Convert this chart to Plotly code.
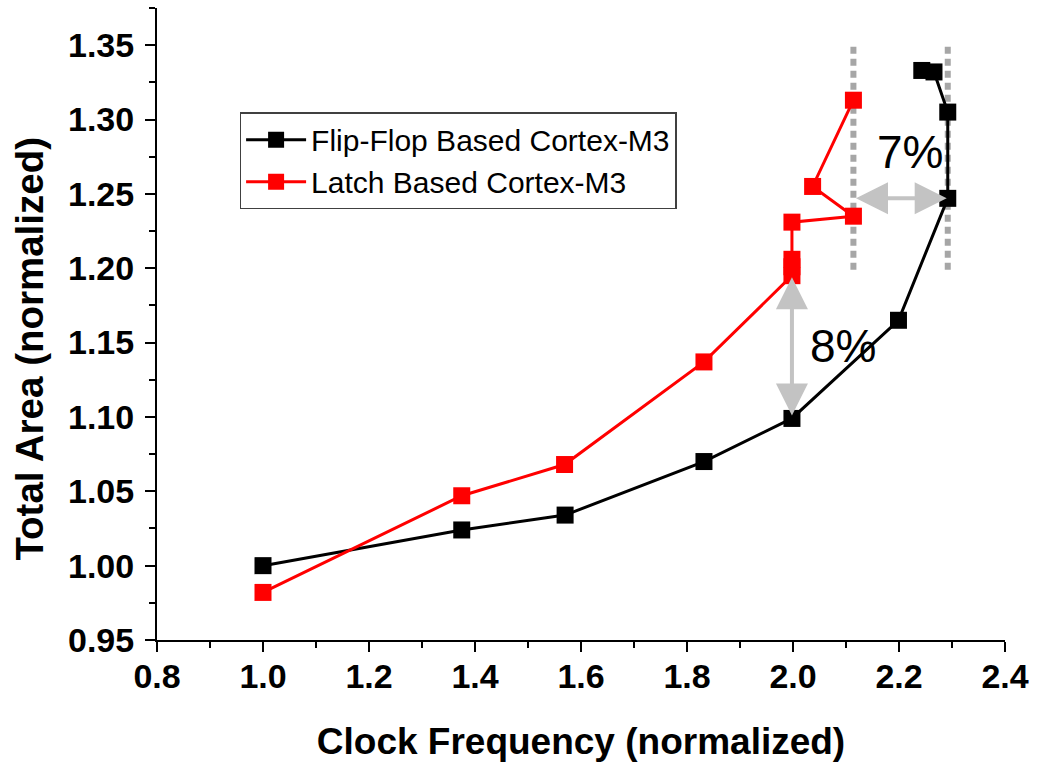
import plotly.graph_objects as go

# Data
ff_freq = [1.0, 1.375, 1.57, 1.832, 1.998, 2.199, 2.292, 2.292, 2.266, 2.243]
ff_area = [1.000, 1.024, 1.034, 1.070, 1.099, 1.165, 1.247, 1.305, 1.332, 1.333]

latch_freq = [1.0, 1.375, 1.569, 1.832, 1.998, 1.998, 1.998, 1.998, 2.114, 2.037, 2.114]
latch_area = [0.982, 1.047, 1.068, 1.137, 1.195, 1.201, 1.206, 1.231, 1.235, 1.255, 1.313]

series_names = ["Flip-Flop Based Cortex-M3", "Latch Based Cortex-M3"]
series_colors = ["black", "#ff0000"]

x_ticks = [0.8, 1.0, 1.2, 1.4, 1.6, 1.8, 2.0, 2.2, 2.4]
y_ticks = [0.95, 1.00, 1.05, 1.10, 1.15, 1.20, 1.25, 1.30, 1.35]

fig = go.Figure()
for xs, ys, name, col in [(ff_freq, ff_area, series_names[0], series_colors[0]),
                          (latch_freq, latch_area, series_names[1], series_colors[1])]:
    fig.add_trace(go.Scatter(x=xs, y=ys, name=name, mode="lines+markers",
                             line=dict(color=col, width=3),
                             marker=dict(symbol="square", size=17, color=col)))

grey_dot = "#a6a6a6"
arrow_grey = "#c3c3c3"
x_latch_max = max(latch_freq)
x_ff_max = max(ff_freq)
for xv in [x_latch_max, x_ff_max]:
    fig.add_shape(type="line", x0=xv, x1=xv, y0=1.199, y1=1.35, xref="x", yref="y",
                  line=dict(color=grey_dot, width=6, dash="7px,5px"), layer="below")

# horizontal double arrow (7%)
fig.add_annotation(x=x_ff_max - 0.002, y=1.247, ax=x_latch_max + 0.002, ay=1.247,
                   xref="x", yref="y", axref="x", ayref="y", text="", showarrow=True,
                   arrowhead=2, startarrowhead=2, arrowside="end+start", arrowsize=1.6,
                   startarrowsize=1.6, arrowwidth=4, arrowcolor=arrow_grey)
# vertical double arrow (8%)
fig.add_annotation(x=1.998, y=1.101, ax=1.998, ay=1.195,
                   xref="x", yref="y", axref="x", ayref="y", text="", showarrow=True,
                   arrowhead=2, startarrowhead=2, arrowside="end+start", arrowsize=1.6,
                   startarrowsize=1.6, arrowwidth=4, arrowcolor=arrow_grey)

fig.add_annotation(x=2.22, y=1.278, text="7%", showarrow=False, xref="x", yref="y",
                   font=dict(family="Liberation Sans, Arial", size=46, color="black"))
fig.add_annotation(x=2.094, y=1.148, text="8%", showarrow=False, xref="x", yref="y",
                   font=dict(family="Liberation Sans, Arial", size=46, color="black"))

# y axis title (placed as annotation to match the reference's offset)
fig.add_annotation(x=-0.1515, y=0.4604, xref="paper", yref="paper", textangle=-90,
                   text="<b>Total Area (normalized)</b>", showarrow=False,
                   xanchor="center", yanchor="middle",
                   font=dict(family="Liberation Sans, Arial", size=38.5, color="black"))

axis_common = dict(showline=True, linecolor="black", linewidth=2, ticks="outside",
                   ticklen=10, tickwidth=2, tickcolor="black", showgrid=False, zeroline=False,
                   mirror=False)

fig.update_layout(
    width=1037, height=763,
    margin=dict(l=157, r=24, t=8, b=123),
    paper_bgcolor="white", plot_bgcolor="white",
    font=dict(family="Liberation Sans, Arial", color="black"),
    showlegend=True,
    legend=dict(x=0.0974, y=0.835, xanchor="left", yanchor="top",
                bordercolor="#404040", borderwidth=1.5, bgcolor="white",
                font=dict(size=30, family="Liberation Sans, Arial"),
                itemwidth=60, tracegroupgap=0),
    xaxis=dict(range=[0.8, 2.4], tickvals=x_ticks, ticktext=[f"{v:.1f}" for v in x_ticks],
               tickfont=dict(size=34, family="Liberation Sans Narrow, Liberation Sans, Arial",
                             weight="bold"),
               ticklabelstandoff=-5,
               title=dict(text="<b>Clock Frequency (normalized)</b>", standoff=34,
                          font=dict(size=37, family="Liberation Sans, Arial")),
               minor=dict(dtick=0.1, ticks="outside", ticklen=6, tickwidth=2, tickcolor="black"),
               **axis_common),
    yaxis=dict(range=[0.95, 1.375], tickvals=y_ticks, ticktext=[f"{v:.2f}" for v in y_ticks],
               tickfont=dict(size=34, family="Liberation Sans, Arial", weight="bold"),
               ticklabelstandoff=4,
               minor=dict(dtick=0.025, tick0=0.95, ticks="outside", ticklen=6, tickwidth=2,
                          tickcolor="black"),
               **axis_common),
)

fig.write_html("out.html")
